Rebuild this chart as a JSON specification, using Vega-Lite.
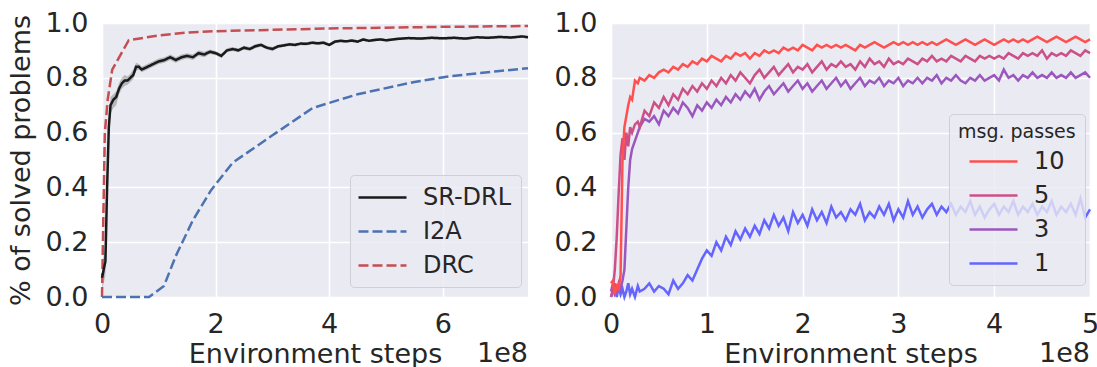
{
  "$schema": "https://vega.github.io/schema/vega-lite/v6.json",
  "background": "white",
  "padding": {"left": 7, "top": 9, "right": 0, "bottom": 0},
  "spacing": 83,
  "bounds": "flush",
  "resolve": {
    "scale": {"x": "independent", "y": "independent", "color": "independent", "strokeDash": "independent"},
    "legend": {"color": "independent", "strokeDash": "independent"}
  },
  "config": {
    "font": "DejaVu Sans",
    "view": {"fill": "#EAEAF2", "stroke": null},
    "axis": {
      "grid": true, "gridColor": "#FFFFFF", "gridWidth": 1.6,
      "domain": false, "ticks": false, "tickSize": 0, "labelFlush": false,
      "labelFontSize": 27, "titleFontSize": 27, "labelColor": "#262626", "titleColor": "#262626",
      "titleFontWeight": "normal", "labelPadding": 14, "labelFont": "DejaVu Sans", "titleFont": "DejaVu Sans"
    },
    "legend": {
      "labelFontSize": 24, "labelColor": "#262626", "titleFontSize": 19, "titleFontWeight": "normal",
      "titleColor": "#262626", "fillColor": "rgba(234,234,242,0.8)", "strokeColor": "#CFCFD6",
      "cornerRadius": 4, "padding": 9, "symbolType": "M-2,0H2", "symbolSize": 576, "symbolStrokeWidth": 2.5,
      "labelOffset": 27, "rowPadding": 8, "labelFont": "DejaVu Sans", "titleFont": "DejaVu Sans", "titlePadding": 6
    }
  },
  "hconcat": [
    {
      "width": 426,
      "height": 274,
      "data": {"values": [
        {"method": "DRC", "steps": 0, "solved": 0.0},
        {"method": "DRC", "steps": 0.02, "solved": 0.25},
        {"method": "DRC", "steps": 0.05, "solved": 0.6},
        {"method": "DRC", "steps": 0.1, "solved": 0.72},
        {"method": "DRC", "steps": 0.18, "solved": 0.83},
        {"method": "DRC", "steps": 0.47, "solved": 0.937},
        {"method": "DRC", "steps": 1.0, "solved": 0.955},
        {"method": "DRC", "steps": 1.5, "solved": 0.965},
        {"method": "DRC", "steps": 2.0, "solved": 0.97},
        {"method": "DRC", "steps": 3.0, "solved": 0.975},
        {"method": "DRC", "steps": 4.0, "solved": 0.98},
        {"method": "DRC", "steps": 5.0, "solved": 0.983},
        {"method": "DRC", "steps": 6.0, "solved": 0.986},
        {"method": "DRC", "steps": 7.5, "solved": 0.989},
        {"method": "I2A", "steps": 0, "solved": 0.0},
        {"method": "I2A", "steps": 0.83, "solved": 0.0},
        {"method": "I2A", "steps": 1.09, "solved": 0.04},
        {"method": "I2A", "steps": 1.3, "solved": 0.15},
        {"method": "I2A", "steps": 1.6, "solved": 0.28},
        {"method": "I2A", "steps": 1.92, "solved": 0.39},
        {"method": "I2A", "steps": 2.3, "solved": 0.49},
        {"method": "I2A", "steps": 3.0, "solved": 0.59},
        {"method": "I2A", "steps": 3.71, "solved": 0.69},
        {"method": "I2A", "steps": 4.5, "solved": 0.74},
        {"method": "I2A", "steps": 5.5, "solved": 0.785},
        {"method": "I2A", "steps": 6.1, "solved": 0.805},
        {"method": "I2A", "steps": 7.0, "solved": 0.825},
        {"method": "I2A", "steps": 7.5, "solved": 0.835},
        {"method": "SR-DRL", "steps": 0, "solved": 0.07, "lo": 0.02, "hi": 0.12},
        {"method": "SR-DRL", "steps": 0.03, "solved": 0.1, "lo": 0.05, "hi": 0.15},
        {"method": "SR-DRL", "steps": 0.06, "solved": 0.13, "lo": 0.08, "hi": 0.2},
        {"method": "SR-DRL", "steps": 0.09, "solved": 0.4, "lo": 0.33, "hi": 0.47},
        {"method": "SR-DRL", "steps": 0.12, "solved": 0.62, "lo": 0.57, "hi": 0.67},
        {"method": "SR-DRL", "steps": 0.15, "solved": 0.7, "lo": 0.67, "hi": 0.73},
        {"method": "SR-DRL", "steps": 0.2, "solved": 0.72, "lo": 0.69, "hi": 0.74},
        {"method": "SR-DRL", "steps": 0.25, "solved": 0.73, "lo": 0.7, "hi": 0.75},
        {"method": "SR-DRL", "steps": 0.3, "solved": 0.76, "lo": 0.74, "hi": 0.78},
        {"method": "SR-DRL", "steps": 0.35, "solved": 0.78, "lo": 0.76, "hi": 0.8},
        {"method": "SR-DRL", "steps": 0.4, "solved": 0.79, "lo": 0.77, "hi": 0.81},
        {"method": "SR-DRL", "steps": 0.45, "solved": 0.79, "lo": 0.775, "hi": 0.805},
        {"method": "SR-DRL", "steps": 0.5, "solved": 0.8, "lo": 0.785, "hi": 0.815},
        {"method": "SR-DRL", "steps": 0.55, "solved": 0.81, "lo": 0.795, "hi": 0.83},
        {"method": "SR-DRL", "steps": 0.6, "solved": 0.84, "lo": 0.825, "hi": 0.855},
        {"method": "SR-DRL", "steps": 0.65, "solved": 0.84, "lo": 0.83, "hi": 0.85},
        {"method": "SR-DRL", "steps": 0.7, "solved": 0.83, "lo": 0.82, "hi": 0.84},
        {"method": "SR-DRL", "steps": 0.8, "solved": 0.84, "lo": 0.83, "hi": 0.85},
        {"method": "SR-DRL", "steps": 0.9, "solved": 0.85, "lo": 0.84, "hi": 0.86},
        {"method": "SR-DRL", "steps": 1.0, "solved": 0.86, "lo": 0.85, "hi": 0.87},
        {"method": "SR-DRL", "steps": 1.1, "solved": 0.865, "lo": 0.855, "hi": 0.875},
        {"method": "SR-DRL", "steps": 1.2, "solved": 0.875, "lo": 0.865, "hi": 0.885},
        {"method": "SR-DRL", "steps": 1.3, "solved": 0.865, "lo": 0.855, "hi": 0.875},
        {"method": "SR-DRL", "steps": 1.4, "solved": 0.875, "lo": 0.865, "hi": 0.885},
        {"method": "SR-DRL", "steps": 1.5, "solved": 0.88, "lo": 0.87, "hi": 0.89},
        {"method": "SR-DRL", "steps": 1.6, "solved": 0.875, "lo": 0.865, "hi": 0.885},
        {"method": "SR-DRL", "steps": 1.7, "solved": 0.89, "lo": 0.88, "hi": 0.9},
        {"method": "SR-DRL", "steps": 1.8, "solved": 0.885, "lo": 0.875, "hi": 0.895},
        {"method": "SR-DRL", "steps": 1.9, "solved": 0.895, "lo": 0.887, "hi": 0.903},
        {"method": "SR-DRL", "steps": 2.0, "solved": 0.89, "lo": 0.882, "hi": 0.898},
        {"method": "SR-DRL", "steps": 2.1, "solved": 0.88, "lo": 0.872, "hi": 0.888},
        {"method": "SR-DRL", "steps": 2.2, "solved": 0.9, "lo": 0.892, "hi": 0.908},
        {"method": "SR-DRL", "steps": 2.3, "solved": 0.905, "lo": 0.898, "hi": 0.912},
        {"method": "SR-DRL", "steps": 2.4, "solved": 0.9, "lo": 0.893, "hi": 0.907},
        {"method": "SR-DRL", "steps": 2.5, "solved": 0.91, "lo": 0.903, "hi": 0.917},
        {"method": "SR-DRL", "steps": 2.6, "solved": 0.905, "lo": 0.898, "hi": 0.912},
        {"method": "SR-DRL", "steps": 2.7, "solved": 0.915, "lo": 0.908, "hi": 0.922},
        {"method": "SR-DRL", "steps": 2.8, "solved": 0.92, "lo": 0.913, "hi": 0.927},
        {"method": "SR-DRL", "steps": 2.9, "solved": 0.91, "lo": 0.903, "hi": 0.917},
        {"method": "SR-DRL", "steps": 3.0, "solved": 0.905, "lo": 0.898, "hi": 0.912},
        {"method": "SR-DRL", "steps": 3.1, "solved": 0.915, "lo": 0.909, "hi": 0.921},
        {"method": "SR-DRL", "steps": 3.2, "solved": 0.918, "lo": 0.912, "hi": 0.924},
        {"method": "SR-DRL", "steps": 3.3, "solved": 0.922, "lo": 0.916, "hi": 0.928},
        {"method": "SR-DRL", "steps": 3.4, "solved": 0.92, "lo": 0.914, "hi": 0.926},
        {"method": "SR-DRL", "steps": 3.5, "solved": 0.925, "lo": 0.919, "hi": 0.931},
        {"method": "SR-DRL", "steps": 3.6, "solved": 0.924, "lo": 0.918, "hi": 0.93},
        {"method": "SR-DRL", "steps": 3.7, "solved": 0.928, "lo": 0.922, "hi": 0.934},
        {"method": "SR-DRL", "steps": 3.8, "solved": 0.926, "lo": 0.92, "hi": 0.932},
        {"method": "SR-DRL", "steps": 3.9, "solved": 0.928, "lo": 0.922, "hi": 0.934},
        {"method": "SR-DRL", "steps": 4.0, "solved": 0.92, "lo": 0.914, "hi": 0.926},
        {"method": "SR-DRL", "steps": 4.1, "solved": 0.932, "lo": 0.926, "hi": 0.938},
        {"method": "SR-DRL", "steps": 4.2, "solved": 0.935, "lo": 0.93, "hi": 0.94},
        {"method": "SR-DRL", "steps": 4.3, "solved": 0.933, "lo": 0.928, "hi": 0.938},
        {"method": "SR-DRL", "steps": 4.4, "solved": 0.936, "lo": 0.931, "hi": 0.941},
        {"method": "SR-DRL", "steps": 4.5, "solved": 0.932, "lo": 0.927, "hi": 0.937},
        {"method": "SR-DRL", "steps": 4.6, "solved": 0.94, "lo": 0.935, "hi": 0.945},
        {"method": "SR-DRL", "steps": 4.7, "solved": 0.935, "lo": 0.93, "hi": 0.94},
        {"method": "SR-DRL", "steps": 4.8, "solved": 0.938, "lo": 0.933, "hi": 0.943},
        {"method": "SR-DRL", "steps": 4.9, "solved": 0.94, "lo": 0.935, "hi": 0.945},
        {"method": "SR-DRL", "steps": 5.0, "solved": 0.937, "lo": 0.932, "hi": 0.942},
        {"method": "SR-DRL", "steps": 5.2, "solved": 0.942, "lo": 0.937, "hi": 0.947},
        {"method": "SR-DRL", "steps": 5.4, "solved": 0.945, "lo": 0.94, "hi": 0.95},
        {"method": "SR-DRL", "steps": 5.6, "solved": 0.943, "lo": 0.938, "hi": 0.948},
        {"method": "SR-DRL", "steps": 5.8, "solved": 0.946, "lo": 0.941, "hi": 0.951},
        {"method": "SR-DRL", "steps": 6.0, "solved": 0.944, "lo": 0.939, "hi": 0.949},
        {"method": "SR-DRL", "steps": 6.2, "solved": 0.946, "lo": 0.941, "hi": 0.951},
        {"method": "SR-DRL", "steps": 6.4, "solved": 0.943, "lo": 0.938, "hi": 0.948},
        {"method": "SR-DRL", "steps": 6.6, "solved": 0.948, "lo": 0.943, "hi": 0.953},
        {"method": "SR-DRL", "steps": 6.8, "solved": 0.946, "lo": 0.941, "hi": 0.951},
        {"method": "SR-DRL", "steps": 7.0, "solved": 0.949, "lo": 0.944, "hi": 0.954},
        {"method": "SR-DRL", "steps": 7.2, "solved": 0.947, "lo": 0.942, "hi": 0.952},
        {"method": "SR-DRL", "steps": 7.4, "solved": 0.951, "lo": 0.946, "hi": 0.956},
        {"method": "SR-DRL", "steps": 7.5, "solved": 0.948, "lo": 0.943, "hi": 0.953}
      ]},
      "layer": [
        {
          "transform": [{"filter": "datum.method === 'SR-DRL'"}],
          "mark": {"type": "area", "color": "#1a1a1a", "opacity": 0.25},
          "encoding": {
            "x": {"field": "steps", "type": "quantitative", "scale": {"domain": [0, 7.5], "nice": false}},
            "y": {"field": "lo", "type": "quantitative", "scale": {"domain": [0, 1], "nice": false}},
            "y2": {"field": "hi"}
          }
        },
        {
          "mark": {"type": "line", "strokeWidth": 2.5},
          "encoding": {
            "x": {"field": "steps", "type": "quantitative", "scale": {"domain": [0, 7.5], "nice": false},
              "axis": {"values": [0, 2, 4, 6], "format": "d", "title": "Environment steps", "titlePadding": 4}},
            "y": {"field": "solved", "type": "quantitative", "scale": {"domain": [0, 1], "nice": false},
              "axis": {"values": [0, 0.2, 0.4, 0.6, 0.8, 1.0], "format": ".1f", "title": "% of solved problems", "titlePadding": 10}},
            "color": {"field": "method", "type": "nominal",
              "scale": {"domain": ["SR-DRL", "I2A", "DRC"], "range": ["#1a1a1a", "#4C72B0", "#C44E52"]},
              "legend": {"title": null, "orient": "none", "legendX": 248, "legendY": 152, "symbolOffset": 10}},
            "strokeDash": {"field": "method", "type": "nominal",
              "scale": {"domain": ["SR-DRL", "I2A", "DRC"], "range": [[1, 0], [10, 4], [10, 4]]},
              "legend": {"title": null, "orient": "none", "legendX": 248, "legendY": 152, "symbolOffset": 10}}
          }
        },
        {
          "data": {"values": [{"label": "1e8"}]},
          "mark": {"type": "text", "align": "right", "baseline": "middle", "fontSize": 27, "color": "#262626", "dy": 2},
          "encoding": {
            "x": {"datum": 7.5},
            "y": {"datum": -0.2},
            "text": {"field": "label"}
          }
        }
      ]
    },
    {
      "width": 479,
      "height": 274,
      "data": {"values": [
        {"steps": 0.00, "10": 0.05, "5": 0.00, "3": 0.02, "1": 0.00},
        {"steps": 0.02, "10": 0.06, "5": 0.03, "3": 0.05, "1": 0.02},
        {"steps": 0.04, "10": 0.01, "5": 0.10, "3": 0.01, "1": 0.05},
        {"steps": 0.06, "10": 0.04, "5": 0.22, "3": 0.02, "1": 0.00},
        {"steps": 0.08, "10": 0.03, "5": 0.38, "3": 0.05, "1": 0.04},
        {"steps": 0.10, "10": 0.08, "5": 0.52, "3": 0.03, "1": 0.01},
        {"steps": 0.12, "10": 0.50, "5": 0.58, "3": 0.06, "1": 0.03},
        {"steps": 0.14, "10": 0.62, "5": 0.50, "3": 0.10, "1": 0.00},
        {"steps": 0.16, "10": 0.66, "5": 0.60, "3": 0.25, "1": 0.02},
        {"steps": 0.18, "10": 0.70, "5": 0.55, "3": 0.40, "1": 0.05},
        {"steps": 0.20, "10": 0.73, "5": 0.62, "3": 0.50, "1": 0.01},
        {"steps": 0.22, "10": 0.72, "5": 0.60, "3": 0.54, "1": 0.03},
        {"steps": 0.25, "10": 0.79, "5": 0.63, "3": 0.57, "1": 0.00},
        {"steps": 0.28, "10": 0.78, "5": 0.64, "3": 0.60, "1": 0.04},
        {"steps": 0.30, "10": 0.80, "5": 0.62, "3": 0.62, "1": 0.02},
        {"steps": 0.35, "10": 0.79, "5": 0.68, "3": 0.65, "1": 0.03},
        {"steps": 0.40, "10": 0.81, "5": 0.66, "3": 0.64, "1": 0.05},
        {"steps": 0.45, "10": 0.80, "5": 0.71, "3": 0.66, "1": 0.02},
        {"steps": 0.50, "10": 0.82, "5": 0.69, "3": 0.63, "1": 0.04},
        {"steps": 0.55, "10": 0.83, "5": 0.73, "3": 0.68, "1": 0.03},
        {"steps": 0.60, "10": 0.82, "5": 0.70, "3": 0.66, "1": 0.01},
        {"steps": 0.65, "10": 0.84, "5": 0.74, "3": 0.69, "1": 0.06},
        {"steps": 0.70, "10": 0.83, "5": 0.72, "3": 0.67, "1": 0.03},
        {"steps": 0.75, "10": 0.85, "5": 0.76, "3": 0.71, "1": 0.05},
        {"steps": 0.80, "10": 0.84, "5": 0.74, "3": 0.69, "1": 0.08},
        {"steps": 0.85, "10": 0.86, "5": 0.77, "3": 0.66, "1": 0.06},
        {"steps": 0.90, "10": 0.85, "5": 0.75, "3": 0.70, "1": 0.10},
        {"steps": 0.95, "10": 0.87, "5": 0.78, "3": 0.68, "1": 0.14},
        {"steps": 1.00, "10": 0.86, "5": 0.76, "3": 0.71, "1": 0.17},
        {"steps": 1.05, "10": 0.88, "5": 0.79, "3": 0.69, "1": 0.15},
        {"steps": 1.10, "10": 0.87, "5": 0.77, "3": 0.72, "1": 0.20},
        {"steps": 1.15, "10": 0.86, "5": 0.80, "3": 0.70, "1": 0.17},
        {"steps": 1.20, "10": 0.88, "5": 0.78, "3": 0.73, "1": 0.22},
        {"steps": 1.25, "10": 0.87, "5": 0.81, "3": 0.71, "1": 0.19},
        {"steps": 1.30, "10": 0.89, "5": 0.79, "3": 0.74, "1": 0.24},
        {"steps": 1.35, "10": 0.88, "5": 0.82, "3": 0.72, "1": 0.21},
        {"steps": 1.40, "10": 0.89, "5": 0.80, "3": 0.75, "1": 0.25},
        {"steps": 1.45, "10": 0.87, "5": 0.78, "3": 0.73, "1": 0.22},
        {"steps": 1.50, "10": 0.89, "5": 0.81, "3": 0.76, "1": 0.26},
        {"steps": 1.55, "10": 0.88, "5": 0.83, "3": 0.72, "1": 0.23},
        {"steps": 1.60, "10": 0.90, "5": 0.80, "3": 0.75, "1": 0.28},
        {"steps": 1.65, "10": 0.89, "5": 0.82, "3": 0.77, "1": 0.25},
        {"steps": 1.70, "10": 0.90, "5": 0.84, "3": 0.74, "1": 0.30},
        {"steps": 1.75, "10": 0.89, "5": 0.81, "3": 0.76, "1": 0.26},
        {"steps": 1.80, "10": 0.91, "5": 0.83, "3": 0.78, "1": 0.29},
        {"steps": 1.85, "10": 0.90, "5": 0.85, "3": 0.75, "1": 0.24},
        {"steps": 1.90, "10": 0.91, "5": 0.82, "3": 0.77, "1": 0.31},
        {"steps": 1.95, "10": 0.90, "5": 0.84, "3": 0.79, "1": 0.27},
        {"steps": 2.00, "10": 0.92, "5": 0.83, "3": 0.76, "1": 0.30},
        {"steps": 2.05, "10": 0.91, "5": 0.85, "3": 0.78, "1": 0.26},
        {"steps": 2.10, "10": 0.90, "5": 0.82, "3": 0.75, "1": 0.32},
        {"steps": 2.15, "10": 0.92, "5": 0.84, "3": 0.77, "1": 0.28},
        {"steps": 2.20, "10": 0.91, "5": 0.86, "3": 0.79, "1": 0.31},
        {"steps": 2.25, "10": 0.92, "5": 0.83, "3": 0.76, "1": 0.27},
        {"steps": 2.30, "10": 0.91, "5": 0.85, "3": 0.78, "1": 0.33},
        {"steps": 2.35, "10": 0.92, "5": 0.84, "3": 0.80, "1": 0.29},
        {"steps": 2.40, "10": 0.91, "5": 0.86, "3": 0.77, "1": 0.31},
        {"steps": 2.45, "10": 0.92, "5": 0.84, "3": 0.79, "1": 0.28},
        {"steps": 2.50, "10": 0.91, "5": 0.85, "3": 0.76, "1": 0.32},
        {"steps": 2.55, "10": 0.90, "5": 0.83, "3": 0.78, "1": 0.30},
        {"steps": 2.60, "10": 0.92, "5": 0.86, "3": 0.80, "1": 0.34},
        {"steps": 2.65, "10": 0.91, "5": 0.84, "3": 0.77, "1": 0.28},
        {"steps": 2.70, "10": 0.92, "5": 0.87, "3": 0.79, "1": 0.31},
        {"steps": 2.75, "10": 0.93, "5": 0.85, "3": 0.78, "1": 0.29},
        {"steps": 2.80, "10": 0.92, "5": 0.86, "3": 0.80, "1": 0.33},
        {"steps": 2.85, "10": 0.91, "5": 0.84, "3": 0.77, "1": 0.30},
        {"steps": 2.90, "10": 0.92, "5": 0.87, "3": 0.79, "1": 0.34},
        {"steps": 2.95, "10": 0.93, "5": 0.85, "3": 0.78, "1": 0.28},
        {"steps": 3.00, "10": 0.92, "5": 0.86, "3": 0.80, "1": 0.32},
        {"steps": 3.05, "10": 0.93, "5": 0.85, "3": 0.77, "1": 0.29},
        {"steps": 3.10, "10": 0.92, "5": 0.87, "3": 0.79, "1": 0.35},
        {"steps": 3.15, "10": 0.93, "5": 0.86, "3": 0.78, "1": 0.30},
        {"steps": 3.20, "10": 0.92, "5": 0.85, "3": 0.80, "1": 0.33},
        {"steps": 3.25, "10": 0.93, "5": 0.87, "3": 0.78, "1": 0.29},
        {"steps": 3.30, "10": 0.92, "5": 0.86, "3": 0.80, "1": 0.32},
        {"steps": 3.35, "10": 0.93, "5": 0.88, "3": 0.79, "1": 0.34},
        {"steps": 3.40, "10": 0.92, "5": 0.86, "3": 0.81, "1": 0.30},
        {"steps": 3.45, "10": 0.93, "5": 0.87, "3": 0.78, "1": 0.33},
        {"steps": 3.50, "10": 0.94, "5": 0.86, "3": 0.80, "1": 0.31},
        {"steps": 3.55, "10": 0.93, "5": 0.88, "3": 0.79, "1": 0.34},
        {"steps": 3.60, "10": 0.92, "5": 0.87, "3": 0.81, "1": 0.30},
        {"steps": 3.65, "10": 0.93, "5": 0.86, "3": 0.79, "1": 0.33},
        {"steps": 3.70, "10": 0.94, "5": 0.88, "3": 0.78, "1": 0.31},
        {"steps": 3.75, "10": 0.93, "5": 0.87, "3": 0.80, "1": 0.35},
        {"steps": 3.80, "10": 0.92, "5": 0.86, "3": 0.79, "1": 0.30},
        {"steps": 3.85, "10": 0.93, "5": 0.88, "3": 0.81, "1": 0.33},
        {"steps": 3.90, "10": 0.94, "5": 0.87, "3": 0.79, "1": 0.29},
        {"steps": 3.95, "10": 0.93, "5": 0.88, "3": 0.80, "1": 0.32},
        {"steps": 4.00, "10": 0.92, "5": 0.87, "3": 0.81, "1": 0.34},
        {"steps": 4.05, "10": 0.93, "5": 0.88, "3": 0.79, "1": 0.30},
        {"steps": 4.10, "10": 0.94, "5": 0.87, "3": 0.83, "1": 0.33},
        {"steps": 4.15, "10": 0.93, "5": 0.89, "3": 0.80, "1": 0.31},
        {"steps": 4.20, "10": 0.94, "5": 0.88, "3": 0.81, "1": 0.35},
        {"steps": 4.25, "10": 0.93, "5": 0.87, "3": 0.79, "1": 0.30},
        {"steps": 4.30, "10": 0.94, "5": 0.89, "3": 0.81, "1": 0.33},
        {"steps": 4.35, "10": 0.93, "5": 0.88, "3": 0.80, "1": 0.31},
        {"steps": 4.40, "10": 0.94, "5": 0.89, "3": 0.82, "1": 0.34},
        {"steps": 4.45, "10": 0.95, "5": 0.88, "3": 0.80, "1": 0.30},
        {"steps": 4.50, "10": 0.94, "5": 0.90, "3": 0.81, "1": 0.33},
        {"steps": 4.55, "10": 0.93, "5": 0.87, "3": 0.80, "1": 0.31},
        {"steps": 4.60, "10": 0.94, "5": 0.89, "3": 0.82, "1": 0.35},
        {"steps": 4.65, "10": 0.95, "5": 0.88, "3": 0.80, "1": 0.30},
        {"steps": 4.70, "10": 0.94, "5": 0.89, "3": 0.81, "1": 0.33},
        {"steps": 4.75, "10": 0.93, "5": 0.88, "3": 0.80, "1": 0.31},
        {"steps": 4.80, "10": 0.94, "5": 0.90, "3": 0.82, "1": 0.34},
        {"steps": 4.85, "10": 0.95, "5": 0.89, "3": 0.80, "1": 0.30},
        {"steps": 4.90, "10": 0.94, "5": 0.88, "3": 0.81, "1": 0.36},
        {"steps": 4.95, "10": 0.93, "5": 0.90, "3": 0.82, "1": 0.29},
        {"steps": 5.00, "10": 0.94, "5": 0.89, "3": 0.80, "1": 0.32}
      ]},
      "layer": [
        {
          "transform": [{"fold": ["1", "3", "5", "10"], "as": ["passes", "solved"]}],
          "mark": {"type": "line", "strokeWidth": 2.5},
          "encoding": {
            "x": {"field": "steps", "type": "quantitative", "scale": {"domain": [0, 5], "nice": false},
              "axis": {"values": [0, 1, 2, 3, 4, 5], "format": "d", "title": "Environment steps", "titlePadding": 4}},
            "y": {"field": "solved", "type": "quantitative", "scale": {"domain": [0, 1], "nice": false},
              "axis": {"values": [0, 0.2, 0.4, 0.6, 0.8, 1.0], "format": ".1f", "title": null}},
            "color": {"field": "passes", "type": "nominal",
              "scale": {"domain": ["10", "5", "3", "1"], "range": ["#FF5050", "#CC5088", "#9B57BF", "#6464FF"]},
              "legend": {"title": "msg. passes", "orient": "none", "legendX": 338, "legendY": 91, "symbolOffset": 22}}
          }
        },
        {
          "data": {"values": [{"label": "1e8"}]},
          "mark": {"type": "text", "align": "right", "baseline": "middle", "fontSize": 27, "color": "#262626", "dy": 2},
          "encoding": {
            "x": {"datum": 5},
            "y": {"datum": -0.2},
            "text": {"field": "label"}
          }
        }
      ]
    }
  ]
}
